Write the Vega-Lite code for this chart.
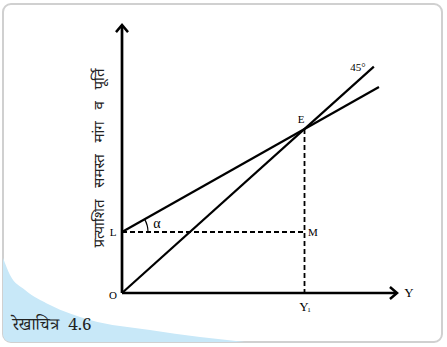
{
  "$schema": "https://vega.github.io/schema/vega-lite/v6.json",
  "width": 447,
  "height": 347,
  "autosize": {"type": "fit", "contains": "padding"},
  "padding": {"left": 3, "top": 4, "right": 5, "bottom": 5},
  "background": "white",
  "config": {
    "view": {"stroke": "#d0d0d0", "strokeWidth": 2, "cornerRadius": 8, "fill": "white"}
  },
  "datasets": {
    "swoosh": [
      {"x": -6.521, "y": 2.134},
      {"x": -6.137, "y": 1.098},
      {"x": -5.315, "y": 0.183},
      {"x": -3.945, "y": -0.732},
      {"x": -1.753, "y": -1.646},
      {"x": 1.534, "y": -2.256},
      {"x": 4.274, "y": -2.683},
      {"x": 6.740, "y": -2.988}
    ],
    "lines": [
      {"name": "yaxis", "x": 0, "y": 0},
      {"name": "yaxis", "x": 0, "y": 16.34},
      {"name": "xaxis", "x": 0, "y": 0},
      {"name": "xaxis", "x": 15.07, "y": 0},
      {"name": "deg45", "x": 0, "y": 0},
      {"name": "deg45", "x": 13.8, "y": 13.8},
      {"name": "ad", "x": 0, "y": 3.72},
      {"name": "ad", "x": 14.08, "y": 12.56}
    ],
    "dashed": [
      {"name": "LM", "x": 0, "y": 3.72},
      {"name": "LM", "x": 10, "y": 3.72},
      {"name": "EY", "x": 10, "y": 10},
      {"name": "EY", "x": 10, "y": 0}
    ],
    "labels": [
      {"t": "E", "x": 9.808, "y": 10.55},
      {"t": "L", "x": -0.493, "y": 3.66},
      {"t": "M", "x": 10.466, "y": 3.66},
      {"t": "O", "x": -0.493, "y": -0.183},
      {"t": "45°", "x": 12.932, "y": 13.72}
    ]
  },
  "layer": [
    {
      "data": {"name": "swoosh"},
      "mark": {"type": "area", "color": "#c8e8f8", "interpolate": "monotone", "clip": true},
      "encoding": {
        "x": {"field": "x", "type": "quantitative", "scale": {"domain": [-6.521, 17.534], "nice": false, "zero": false}, "axis": null},
        "y": {"field": "y", "type": "quantitative", "scale": {"domain": [-2.988, 17.622], "nice": false, "zero": false}, "axis": null},
        "y2": {"datum": -2.988}
      }
    },
    {
      "data": {"name": "lines"},
      "transform": [{"filter": "datum.name === 'xaxis' || datum.name === 'yaxis'"}],
      "mark": {"type": "line", "color": "black", "strokeWidth": 2.7},
      "encoding": {
        "x": {"field": "x", "type": "quantitative"},
        "y": {"field": "y", "type": "quantitative"},
        "detail": {"field": "name"}
      }
    },
    {
      "data": {"name": "lines"},
      "transform": [{"filter": "datum.name === 'deg45' || datum.name === 'ad'"}],
      "mark": {"type": "line", "color": "black", "strokeWidth": 2.2},
      "encoding": {
        "x": {"field": "x", "type": "quantitative"},
        "y": {"field": "y", "type": "quantitative"},
        "detail": {"field": "name"}
      }
    },
    {
      "data": {"name": "dashed"},
      "mark": {"type": "line", "color": "black", "strokeWidth": 1.8, "strokeDash": [5, 3]},
      "encoding": {
        "x": {"field": "x", "type": "quantitative"},
        "y": {"field": "y", "type": "quantitative"},
        "detail": {"field": "name"}
      }
    },
    {
      "data": {"values": [{"x": 15.07, "y": 0}]},
      "mark": {"type": "point", "shape": "M-1,-0.85L0,0L-1,0.85", "size": 200, "filled": false, "stroke": "black", "strokeWidth": 2.5, "opacity": 1},
      "encoding": {
        "x": {"field": "x", "type": "quantitative"},
        "y": {"field": "y", "type": "quantitative"}
      }
    },
    {
      "data": {"values": [{"x": 0, "y": 16.34}]},
      "mark": {"type": "point", "shape": "M-0.85,1L0,0L0.85,1", "size": 200, "filled": false, "stroke": "black", "strokeWidth": 2.5, "opacity": 1},
      "encoding": {
        "x": {"field": "x", "type": "quantitative"},
        "y": {"field": "y", "type": "quantitative"}
      }
    },
    {
      "data": {"values": [{"x": 0, "y": 3.72}]},
      "mark": {"type": "point", "shape": "M1,0A1,1 0 0,0 0.868,-0.496", "size": 2704, "filled": false, "stroke": "black", "strokeWidth": 1.2, "opacity": 1},
      "encoding": {
        "x": {"field": "x", "type": "quantitative"},
        "y": {"field": "y", "type": "quantitative"}
      }
    },
    {
      "data": {"name": "labels"},
      "mark": {"type": "text", "font": "Liberation Serif", "fontSize": 11, "color": "black", "baseline": "middle", "align": "center"},
      "encoding": {
        "x": {"field": "x", "type": "quantitative"},
        "y": {"field": "y", "type": "quantitative"},
        "text": {"field": "t"}
      }
    },
    {
      "data": {"values": [{"t": "Y", "x": 15.726, "y": 0}, {"t": "Y", "x": 9.973, "y": -0.854}]},
      "mark": {"type": "text", "font": "Liberation Serif", "fontSize": 13, "color": "black", "baseline": "middle", "align": "center"},
      "encoding": {
        "x": {"field": "x", "type": "quantitative"},
        "y": {"field": "y", "type": "quantitative"},
        "text": {"field": "t"}
      }
    },
    {
      "data": {"values": [{"t": "1", "x": 10.247, "y": -1.05}]},
      "mark": {"type": "text", "font": "Liberation Serif", "fontSize": 7, "color": "black", "baseline": "middle", "align": "center"},
      "encoding": {
        "x": {"field": "x", "type": "quantitative"},
        "y": {"field": "y", "type": "quantitative"},
        "text": {"field": "t"}
      }
    },
    {
      "data": {"values": [{"t": "α", "x": 1.918, "y": 4.207}]},
      "mark": {"type": "text", "font": "Liberation Serif", "fontSize": 14, "color": "black", "baseline": "middle", "align": "center"},
      "encoding": {
        "x": {"field": "x", "type": "quantitative"},
        "y": {"field": "y", "type": "quantitative"},
        "text": {"field": "t"}
      }
    },
    {
      "data": {"values": [{"t": "प्रत्याशित\u00a0\u00a0\u00a0समस्त\u00a0\u00a0\u00a0मांग\u00a0\u00a0\u00a0व\u00a0\u00a0\u00a0पूर्ति", "x": -1.26, "y": 8.232}]},
      "mark": {"type": "text", "font": "Noto Sans Devanagari, Lohit Devanagari, Noto Serif Devanagari, sans-serif", "fontSize": 15, "color": "#222", "baseline": "middle", "align": "center", "angle": 270},
      "encoding": {
        "x": {"field": "x", "type": "quantitative"},
        "y": {"field": "y", "type": "quantitative"},
        "text": {"field": "t"}
      }
    },
    {
      "data": {"values": [{"t": "रेखाचित्र\u00a0\u00a04.6", "x": -6.0, "y": -1.951}]},
      "mark": {"type": "text", "font": "Noto Serif Devanagari, Noto Sans Devanagari, serif", "fontSize": 17, "color": "#222", "baseline": "middle", "align": "left"},
      "encoding": {
        "x": {"field": "x", "type": "quantitative"},
        "y": {"field": "y", "type": "quantitative"},
        "text": {"field": "t"}
      }
    }
  ]
}
